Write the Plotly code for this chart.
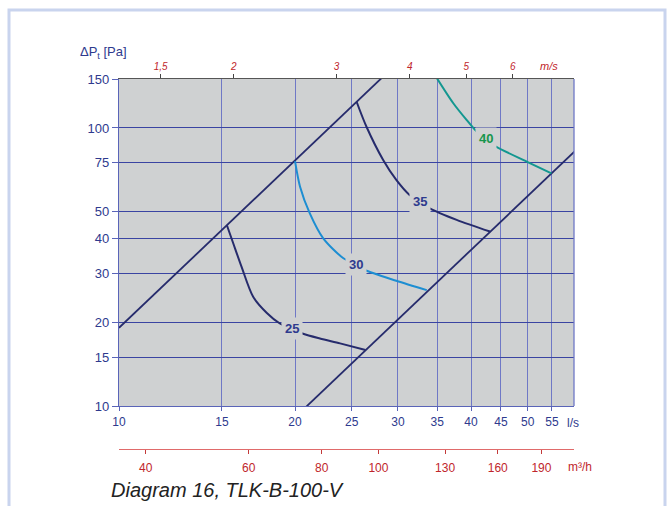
import math
import plotly.graph_objects as go

# ---------------- data ----------------
# flow rate in l/s, total pressure loss in Pa
upper_q = [10.0, 30.0]
upper_p = [19.1, 172.0]
lower_q = [20.0, 62.0]
lower_p = [9.1, 87.5]

c25_q = [15.3, 15.68, 16.2, 16.96, 17.9, 18.84, 19.73, 20.65, 22.06, 23.88, 26.4]
c25_p = [44.6, 38.5, 31.7, 24.7, 21.6, 19.8, 18.97, 18.2, 17.5, 16.8, 15.9]

c30_q = [20.0, 20.4, 21.2, 22.35, 24.2, 25.4, 26.3, 29.8, 33.6]
c30_p = [76.0, 61.5, 49.3, 40.1, 34.0, 32.4, 30.9, 28.2, 26.1]

c35_q = [25.5, 26.5, 28.3, 29.8, 31.4, 32.7, 34.0, 37.8, 43.1]
c35_p = [124.0, 101.0, 76.7, 65.0, 57.4, 54.4, 51.4, 46.7, 42.4]

c40_q = [34.9, 37.3, 39.3, 40.9, 42.4, 43.9, 49.8, 54.9]
c40_p = [152.0, 122.7, 106.9, 97.0, 91.4, 86.2, 75.7, 68.7]

curve_labels = ["25", "30", "35", "40"]
label_q = [19.73, 25.4, 32.7, 42.4]
label_p = [18.97, 32.4, 54.4, 91.4]

y_ticks = [10, 15, 20, 30, 40, 50, 75, 100, 150]
x_ticks = [10, 15, 20, 25, 30, 35, 40, 45, 50, 55]
m3h_ticks = [40, 60, 80, 100, 130, 160, 190]
ms_ticks = [1.5, 2, 3, 4, 5, 6]
ms_text = ["1,5", "2", "3", "4", "5", "6"]
duct_area_l = 7.854  # l/s per m/s for a 100 mm duct

# ---------------- style ----------------
FONT = "Arial, Liberation Sans, sans-serif"
NAVY = "#262b6c"
LBL = "#2e3a8e"
RED = "#bf262c"
BG = "#cfd1d2"
HGRID = "#3a44a2"
VGRID = "#6f78c6"
AXIS = "#5a64b8"

xr = [1.0, math.log10(60)]
yr = [1.0, math.log10(150)]

# layout geometry
H, T, B = 506, 79, 30
paper_h = H - T - B
def py(px):
    return (H - B - px) / paper_h
def pxr(px):
    return (px - 119) / 455.0

fig = go.Figure()

for q, p in [(upper_q, upper_p), (lower_q, lower_p)]:
    fig.add_trace(go.Scatter(x=q, y=p, mode="lines",
                             line=dict(color=NAVY, width=1.8),
                             hoverinfo="skip", showlegend=False))

curves = [(c25_q, c25_p, NAVY), (c30_q, c30_p, "#1d8ed2"),
          (c35_q, c35_p, NAVY), (c40_q, c40_p, "#139790")]
for q, p, col in curves:
    fig.add_trace(go.Scatter(x=q, y=p, mode="lines",
                             line=dict(color=col, width=2, shape="spline", smoothing=0.8),
                             hoverinfo="skip", showlegend=False))

# dummy traces to make secondary axes render
fig.add_trace(go.Scatter(x=[20], y=[20], xaxis="x2", yaxis="y", mode="markers",
                         marker=dict(opacity=0), hoverinfo="skip", showlegend=False))
fig.add_trace(go.Scatter(x=[20], y=[20], xaxis="x3", yaxis="y", mode="markers",
                         marker=dict(opacity=0), hoverinfo="skip", showlegend=False))

label_colors = [LBL, LBL, LBL, "#16964c"]
annotations = []
for t, q, p, c in zip(curve_labels, label_q, label_p, label_colors):
    annotations.append(dict(x=math.log10(q), y=math.log10(p), xref="x", yref="y",
                            text="<b>%s</b>" % t, showarrow=False, bgcolor=BG,
                            borderpad=3, xanchor="center", yanchor="middle",
                            font=dict(family=FONT, size=13, color=c)))

def ann(x, y, text, size, color, style="normal", xanchor="center"):
    return dict(x=pxr(x), y=py(y), xref="paper", yref="paper", showarrow=False,
                xanchor=xanchor, yanchor="middle", text=text,
                font=dict(family=FONT, size=size, color=color, style=style))

annotations += [
    ann(103, 52, "ΔP<sub>t</sub> [Pa]", 13, LBL),
    ann(549, 66, "m/s", 11, RED, "italic"),
    ann(573, 423, "l/s", 12, LBL),
    ann(580, 467, "m³/h", 12, RED),
    ann(109, 490, "Diagram 16, TLK-B-100-V", 20, "#222222", "italic", "left"),
]

shapes = [
    dict(type="rect", xref="paper", yref="paper", x0=pxr(9), x1=pxr(665),
         y0=py(560), y1=py(10), line=dict(color="#c9d4ee", width=3), layer="below"),
    dict(type="line", xref="x domain", yref="y domain", x0=1, x1=1, y0=0, y1=1,
         line=dict(color=VGRID, width=1.3)),
]

fig.update_layout(
    width=670, height=506,
    margin=dict(l=119, r=96, t=T, b=B),
    paper_bgcolor="white", plot_bgcolor=BG,
    font=dict(family=FONT),
    showlegend=False,
    annotations=annotations, shapes=shapes,
    xaxis=dict(type="log", range=xr, tickvals=x_ticks, ticktext=[str(v) for v in x_ticks],
               showgrid=True, gridcolor=VGRID, gridwidth=1.3, zeroline=False,
               showline=True, linecolor=AXIS, linewidth=1.3,
               ticks="outside", ticklen=4, tickcolor=AXIS,
               tickfont=dict(family=FONT, size=12, color=LBL), anchor="y"),
    xaxis2=dict(type="log", range=xr, overlaying="x", anchor="free", position=py(449),
                side="bottom", tickvals=[v / 3.6 for v in m3h_ticks],
                ticktext=[str(v) for v in m3h_ticks], showgrid=False, zeroline=False,
                showline=True, linecolor="#e06a6a", linewidth=1,
                ticks="outside", ticklen=4, tickcolor="#c43a3a", ticklabelstandoff=4,
                tickfont=dict(family=FONT, size=12, color=RED)),
    xaxis3=dict(type="log", range=xr, overlaying="x", anchor="y", side="top",
                tickvals=[v * duct_area_l for v in ms_ticks], ticktext=ms_text,
                showgrid=False, zeroline=False, showline=True, linecolor="#555555",
                linewidth=1.3, ticks="outside", ticklen=4, tickcolor="#444444",
                tickfont=dict(family=FONT, size=10, color=RED, style="italic")),
    yaxis=dict(type="log", range=yr, domain=[py(406), 1], tickvals=y_ticks,
               ticktext=[str(v) for v in y_ticks], showgrid=True, gridcolor=HGRID,
               gridwidth=1.3, zeroline=False, showline=True, linecolor=AXIS, linewidth=1.3,
               ticks="outside", ticklen=6, tickcolor=AXIS,
               tickfont=dict(family=FONT, size=13, color=LBL)),
)

fig.write_html("out.html")
